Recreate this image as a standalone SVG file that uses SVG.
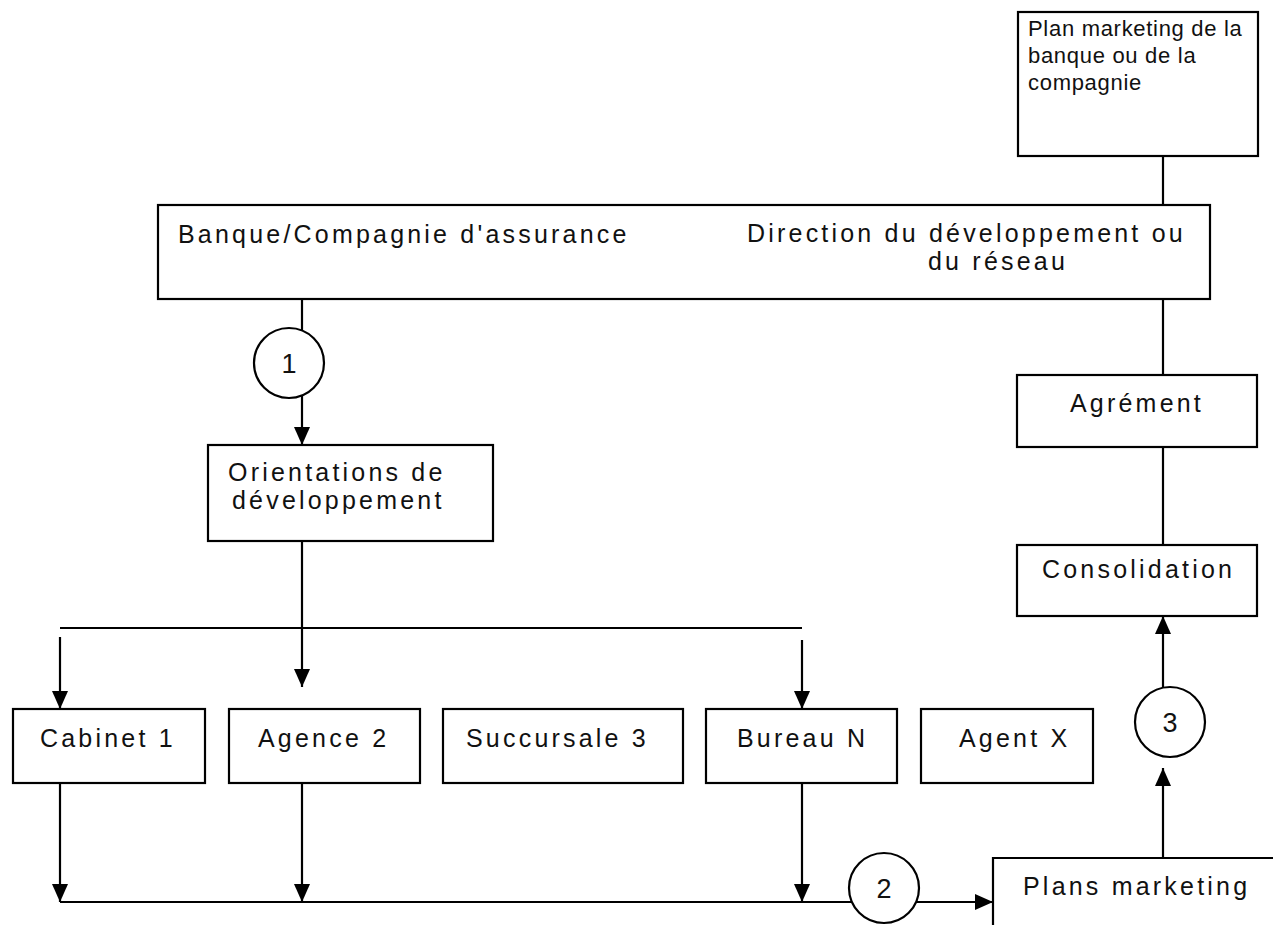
<svg xmlns="http://www.w3.org/2000/svg" width="1273" height="925" viewBox="0 0 1273 925">
  <style>
    .box{fill:#fff;stroke:#000;stroke-width:2.2}
    .ring{fill:#fff;stroke:#000;stroke-width:2.2}
    .ln{fill:none;stroke:#000;stroke-width:2.2}
    .t{font-family:"Liberation Sans",Arial,Helvetica,sans-serif;font-size:25px;letter-spacing:3.2px;fill:#111}
    .ts{font-size:22px;letter-spacing:0.7px}
    .num{font-family:"Liberation Sans",Arial,Helvetica,sans-serif;font-size:27px;fill:#111;text-anchor:middle}
  </style>
  <defs>
    <marker id="ah" markerUnits="userSpaceOnUse" markerWidth="18" markerHeight="16" viewBox="0 0 18 16" refX="18" refY="8" orient="auto">
      <path d="M0,0 L18,8 L0,16 z" fill="#000"/>
    </marker>
  </defs>

  <!-- connectors -->
  <g id="connectors" class="ln">
    <path d="M1163,156 V205"/>
    <path d="M1163,299 V375"/>
    <path d="M1163,447 V545"/>
    <path d="M1163,688 V616" marker-end="url(#ah)"/>
    <path d="M1163,858 V768" marker-end="url(#ah)"/>
    <path d="M302,299 V330"/>
    <path d="M302,394 V445" marker-end="url(#ah)"/>
    <path d="M302,541 V687" marker-end="url(#ah)"/>
    <path d="M60,628 H802"/>
    <path d="M60,637 V709" marker-end="url(#ah)"/>
    <path d="M802,640 V709" marker-end="url(#ah)"/>
    <path d="M60,783 V902" marker-end="url(#ah)"/>
    <path d="M302,773 V902" marker-end="url(#ah)"/>
    <path d="M802,783 V902" marker-end="url(#ah)"/>
    <path d="M60,902 H852"/>
    <path d="M916,902 H993" marker-end="url(#ah)"/>
  </g>

  <g id="plan-banque">
    <rect class="box" x="1018" y="12" width="240" height="144"/>
    <text class="t ts" x="1028" y="36">Plan marketing de la</text>
    <text class="t ts" x="1028" y="63">banque ou de la</text>
    <text class="t ts" x="1028" y="90">compagnie</text>
  </g>

  <g id="banque">
    <rect class="box" x="158" y="205" width="1052" height="94"/>
    <text class="t" x="178" y="243">Banque/Compagnie d'assurance</text>
    <text class="t" x="747" y="242">Direction du développement ou</text>
    <text class="t" x="928" y="270">du réseau</text>
  </g>

  <g id="step1">
    <circle class="ring" cx="289" cy="363" r="35"/>
    <text class="num" x="289" y="373">1</text>
  </g>

  <g id="orientations">
    <rect class="box" x="208" y="445" width="285" height="96"/>
    <text class="t" x="228" y="481">Orientations de</text>
    <text class="t" x="232" y="509">développement</text>
  </g>

  <g id="cabinet1">
    <rect class="box" x="13" y="709" width="192" height="74"/>
    <text class="t" x="40" y="747">Cabinet 1</text>
  </g>
  <g id="agence2">
    <rect class="box" x="229" y="709" width="191" height="74"/>
    <text class="t" x="258" y="747">Agence 2</text>
  </g>
  <g id="succursale3">
    <rect class="box" x="443" y="709" width="240" height="74"/>
    <text class="t" x="466" y="747">Succursale 3</text>
  </g>
  <g id="bureauN">
    <rect class="box" x="706" y="709" width="191" height="74"/>
    <text class="t" x="737" y="747">Bureau N</text>
  </g>
  <g id="agentX">
    <rect class="box" x="921" y="709" width="172" height="74"/>
    <text class="t" x="959" y="747">Agent X</text>
  </g>

  <g id="step2">
    <circle class="ring" cx="884" cy="888" r="35"/>
    <text class="num" x="884" y="898">2</text>
  </g>

  <g id="plans">
    <path class="ln" d="M993,925 V858 H1273"/>
    <text class="t" x="1023" y="895">Plans marketing</text>
  </g>

  <g id="step3">
    <circle class="ring" cx="1170" cy="722" r="35"/>
    <text class="num" x="1170" y="732">3</text>
  </g>

  <g id="consolidation">
    <rect class="box" x="1017" y="545" width="240" height="71"/>
    <text class="t" x="1042" y="578">Consolidation</text>
  </g>

  <g id="agrement">
    <rect class="box" x="1017" y="375" width="240" height="72"/>
    <text class="t" x="1070" y="412">Agrément</text>
  </g>
</svg>
